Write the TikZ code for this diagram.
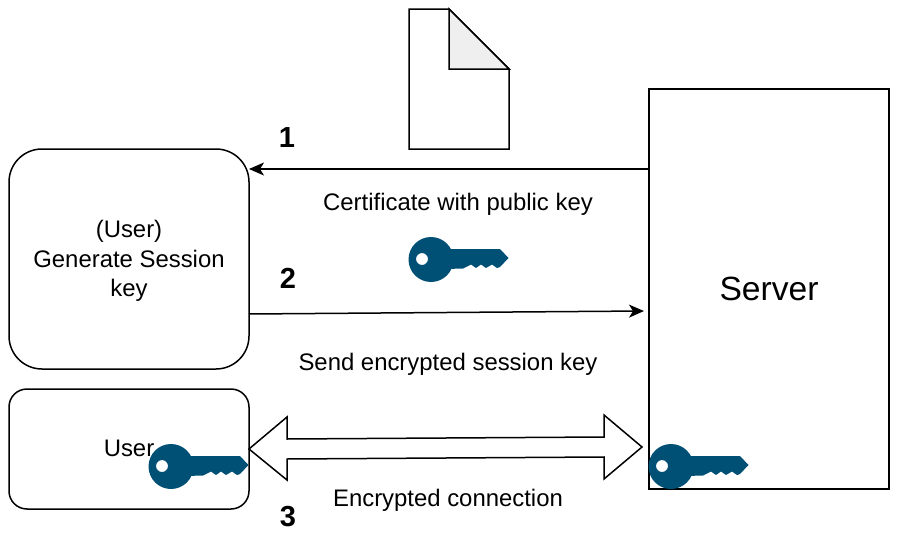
\documentclass[tikz,border=0pt]{standalone}
\usepackage{fontspec}
\setmainfont{Liberation Sans}
\definecolor{dnkhoa}{HTML}{004F75}
\definecolor{dngap}{HTML}{EFEFEF}
\def\maukhoa{dnkhoa}
\def\maugap{dngap}
\usetikzlibrary{arrows.meta}
\tikzset{
	keyicon/.pic={
		\fill[\maukhoa] (15,-10.5)--(69,-10.5)--(77.5,-1.5)--(69,7.5)--(66,8.5)--(61,5)--(55,8.5)--(50,5)--(45,8.5)--(40,5)--(32,9)--(15,9.5)--cycle;
		\fill[\maukhoa,even odd rule] (0,0) circle (22.5) (-9,-.5) circle (6);
	}
}
\begin{document}
\begin{tikzpicture}[x=1pt,y=-1pt]
		\tikzstyle{linestyle} = [-{Stealth[length=15pt,width=13pt,inset=4pt]},line width=1.5pt,black]
		\tikzstyle{boxstyle} = [draw,line width=1.5pt,outer sep=0pt,inner sep=0pt,align=center,font=\fontsize{23.9}{29.5}\selectfont]
		\tikzstyle{labelstyle} = [inner sep=0pt,font=\fontsize{23.9}{28}\selectfont]
		\tikzstyle{numstyle} = [inner sep=0pt,font=\fontsize{29}{32}\selectfont\bfseries]
		\useasboundingbox (0,0) rectangle (898,538);
		\node[boxstyle,rounded corners=33pt,minimum width=240pt,minimum height=220pt,text depth=1pt] (gensession) at (129,259) {(User)\\Generate Session\\key};
		\node[boxstyle,rounded corners=18pt,minimum width=240pt,minimum height=120pt,text depth=2pt] (userbox) at (129,449) {User};
		\node[boxstyle,minimum width=240pt,minimum height=400pt,font=\fontsize{33.6}{40}\selectfont] (server) at (769,289) {Server};
		% document
		\draw[line width=1.5pt,fill=white] (409,9)--(449,9)--(509,69)--(509,149)--(409,149)--cycle;
		\draw[line width=1.5pt,fill=\maugap] (449,9)--(509,69)--(449,69)--cycle;
		% arrows
		\coordinate (certstart) at (server.west |- 0,169);
		\coordinate (certend) at (gensession.east |- 0,169);
		\coordinate (sendstart) at (gensession.east |- 0,314);
		\coordinate (sendend) at (644,311);
		\coordinate (conntip) at (642,447);
		\draw[linestyle] (certstart)--(certend);
		\draw[linestyle] (sendstart)--(sendend);
		\draw[line width=1.5pt,fill=white] (userbox.east)--(287,417)--(287,439)--(604,437)--(604,415)--(conntip)--(604,479)--(604,457)--(287,459)--(287,480)--cycle;
		% labels
		\node[numstyle] (numone) at (287,138) {1};
		\node[numstyle] (numtwo) at (288,278) {2};
		\node[numstyle] (numthree) at (288,517) {3};
		\node[labelstyle] (certlabel) at (458,204.5) {Certificate with public key};
		\node[labelstyle] (sendlabel) at (448,364.5) {Send encrypted session key};
		\node[labelstyle] (connlabel) at (448,500.5) {Encrypted connection};
		% keys
		\pic at (431,259.5) {keyicon};
		\pic at (171,466.5) {keyicon};
		\pic at (671,466.5) {keyicon};
	\end{tikzpicture}
\end{document}
